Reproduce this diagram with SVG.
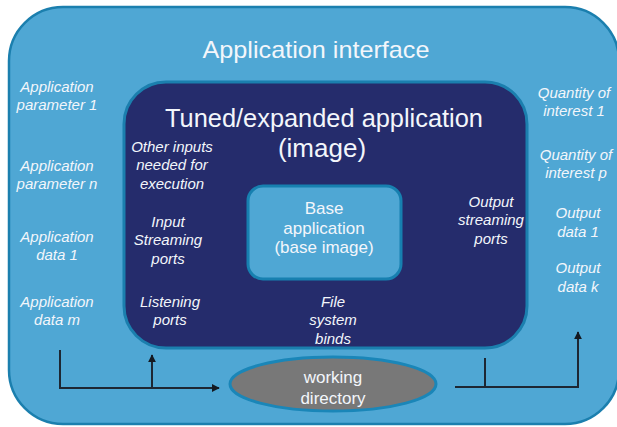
<svg xmlns="http://www.w3.org/2000/svg" width="617" height="427" viewBox="0 0 617 427">
  <style>
    text { font-family: "Liberation Sans", Arial, sans-serif; fill: #f3f6fb; text-anchor: middle; }
    .lbl { font-size: 15px; font-style: italic; }
    .box { font-size: 17px; }
    .conn { fill: none; stroke: #1d2733; stroke-width: 2; }
  </style>
  <defs>
    <marker id="arrow" viewBox="0 0 10 10" refX="9" refY="5" markerWidth="8" markerHeight="8" markerUnits="userSpaceOnUse" orient="auto">
      <path d="M0,0 L10,5 L0,10 z" fill="#141a22"/>
    </marker>
  </defs>

  <!-- application interface (outer shell) -->
  <g id="interface">
    <rect x="9" y="7" width="610" height="417" rx="54" ry="54" fill="#4fa7d4" stroke="#1b7fae" stroke-width="2.5"/>
    <text x="316" y="58" font-size="24" textLength="227" lengthAdjust="spacingAndGlyphs">Application interface</text>
    <text class="lbl" x="57" y="92">Application</text>
    <text class="lbl" x="57" y="110">parameter 1</text>
    <text class="lbl" x="57" y="171">Application</text>
    <text class="lbl" x="57" y="189">parameter n</text>
    <text class="lbl" x="57" y="242">Application</text>
    <text class="lbl" x="57" y="260">data 1</text>
    <text class="lbl" x="57" y="307">Application</text>
    <text class="lbl" x="57" y="325">data m</text>
    <text class="lbl" x="574" y="98">Quantity of</text>
    <text class="lbl" x="574" y="116">interest 1</text>
    <text class="lbl" x="576" y="160">Quantity of</text>
    <text class="lbl" x="576" y="178">interest p</text>
    <text class="lbl" x="578" y="218">Output</text>
    <text class="lbl" x="578" y="237">data 1</text>
    <text class="lbl" x="578" y="273">Output</text>
    <text class="lbl" x="578" y="292">data k</text>
  </g>

  <!-- tuned / expanded application image -->
  <g id="tuned">
    <rect x="124" y="82" width="403" height="266" rx="42" ry="42" fill="#252c6c" stroke="#1b7fae" stroke-width="3"/>
    <text x="324" y="127" font-size="26" textLength="318" lengthAdjust="spacingAndGlyphs">Tuned/expanded application</text>
    <text x="322" y="157" font-size="26">(image)</text>
    <text class="lbl" x="172" y="152">Other inputs</text>
    <text class="lbl" x="172" y="170">needed for</text>
    <text class="lbl" x="172" y="189">execution</text>
    <text class="lbl" x="168" y="227">Input</text>
    <text class="lbl" x="168" y="245">Streaming</text>
    <text class="lbl" x="168" y="264">ports</text>
    <text class="lbl" x="170" y="307">Listening</text>
    <text class="lbl" x="170" y="325">ports</text>
    <text class="lbl" x="333" y="307">File</text>
    <text class="lbl" x="333" y="325">system</text>
    <text class="lbl" x="333" y="344">binds</text>
    <text class="lbl" x="491" y="207">Output</text>
    <text class="lbl" x="491" y="225">streaming</text>
    <text class="lbl" x="491" y="244">ports</text>
  </g>

  <!-- base application image -->
  <g id="base">
    <rect x="248" y="186" width="153" height="93" rx="15" ry="15" fill="#4fa7d4" stroke="#1780b0" stroke-width="3"/>
    <text class="box" x="324" y="214">Base</text>
    <text class="box" x="324" y="234">application</text>
    <text class="box" x="324" y="253">(base image)</text>
  </g>

  <!-- working directory -->
  <g id="workdir">
    <ellipse cx="333" cy="384" rx="103" ry="27" fill="#787878" stroke="#1a86b8" stroke-width="3"/>
    <text class="box" x="333" y="383">working</text>
    <text class="box" x="333" y="404">directory</text>
  </g>

  <!-- connectors -->
  <g id="connectors">
    <path class="conn" d="M60,350 V388 H219" marker-end="url(#arrow)"/>
    <path class="conn" d="M152,388 V355" marker-end="url(#arrow)"/>
    <path class="conn" d="M455,387 H578 V332" marker-end="url(#arrow)"/>
    <path class="conn" d="M485,358 V387"/>
  </g>
</svg>
